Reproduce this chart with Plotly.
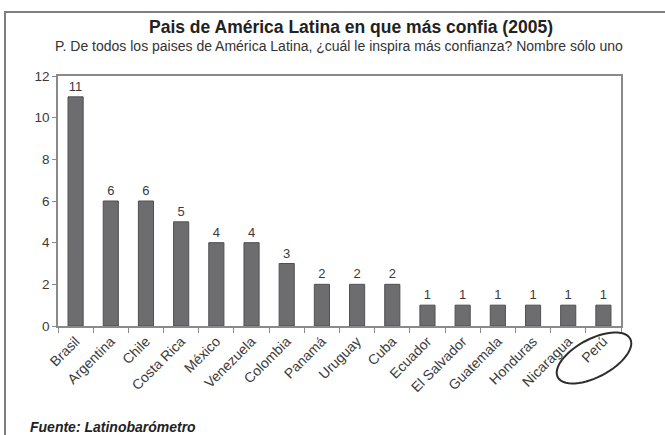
import numpy as np
import plotly.graph_objects as go

paises = ["Brasil", "Argentina", "Chile", "Costa Rica", "México", "Venezuela",
          "Colombia", "Panamá", "Uruguay", "Cuba", "Ecuador", "El Salvador",
          "Guatemala", "Honduras", "Nicaragua", "Perú"]
valores = [11, 6, 6, 5, 4, 4, 3, 2, 2, 2, 1, 1, 1, 1, 1, 1]
y_ticks = [0, 2, 4, 6, 8, 10, 12]

titulo = "Pais de América Latina en que más confia (2005)"
pregunta = "P. De todos los paises de América Latina, ¿cuál le inspira más confianza? Nombre sólo uno"
fuente = "Fuente: Latinobarómetro"

W, H = 665, 435
L, R, T, B = 58, 44, 76, 109
pw, ph = W - L - R, H - T - B


def px(x, y):
    # pixel position on the page -> paper coords
    return (x - L) / pw, (H - B - y) / ph


fig = go.Figure()
fig.add_trace(go.Bar(
    x=paises, y=valores,
    marker=dict(color="#6d6d70", line=dict(color="#505052", width=1)),
    width=0.43,
    text=valores, textposition="outside",
    textfont=dict(size=13, color="#3a3a3a"),
    cliponaxis=False,
))

# frame around the whole figure (right and bottom edges fall off the page)
x0, y0 = px(5, 12)
x1, y1 = px(680, 450)
fig.add_shape(type="rect", xref="paper", yref="paper", x0=x0, y0=y0, x1=x1, y1=y1,
              line=dict(color="#7e7e7e", width=2), layer="above")

# ellipse around Perú
t = np.linspace(0, 2 * np.pi, 60)
a, b, ang = 41, 19, np.radians(28)
ex = a * np.cos(t) * np.cos(ang) - b * np.sin(t) * np.sin(ang)
ey = a * np.cos(t) * np.sin(ang) + b * np.sin(t) * np.cos(ang)
cx, cy = 594, 358
pts = [px(cx + u, cy - v) for u, v in zip(ex, ey)]
path = "M " + " L ".join(f"{p[0]:.4f},{p[1]:.4f}" for p in pts) + " Z"
fig.add_shape(type="path", xref="paper", yref="paper", path=path,
              line=dict(color="#2e2e2e", width=2))

tx, ty = px(351, 27)
fig.add_annotation(text=f"<b>{titulo}</b>", xref="paper", yref="paper", x=tx, y=ty,
                   xanchor="center", yanchor="middle",
                   showarrow=False, font=dict(size=17.5, color="#222"))
tx, ty = px(339, 46)
fig.add_annotation(text=pregunta, xref="paper", yref="paper", x=tx, y=ty,
                   xanchor="center", yanchor="middle",
                   showarrow=False, font=dict(size=14, color="#333"))
tx, ty = px(28, 427)
fig.add_annotation(text=f"<b><i>{fuente}</i></b>", xref="paper", yref="paper", x=tx, y=ty,
                   xanchor="left", yanchor="middle",
                   showarrow=False, font=dict(size=14, color="#222"))

fig.update_layout(
    width=W, height=H,
    margin=dict(l=L, r=R, t=T, b=B),
    paper_bgcolor="white", plot_bgcolor="white",
    font=dict(family="Liberation Sans, Arial, sans-serif", size=13, color="#3a3a3a"),
    showlegend=False,
)
fig.update_xaxes(
    tickangle=-45, tickson="boundaries", ticks="outside", ticklen=5,
    tickcolor="#8a8a8a", showline=True, linecolor="#8a8a8a", linewidth=1.5,
    mirror=True, showgrid=False, tickfont=dict(size=14, color="#3a3a3a"),
)
fig.update_yaxes(
    range=[0, 12], tickvals=y_ticks, ticks="outside", ticklen=4,
    tickcolor="#8a8a8a", showline=True, linecolor="#8a8a8a", linewidth=1.5,
    mirror=True, showgrid=False, zeroline=False, tickfont=dict(size=13.5, color="#3a3a3a"),
)

# page body has an 8px default margin; drop it so the figure sits at 0,0
fig.write_html("out.html", config={"displayModeBar": False},
               post_script="document.body.style.margin='0';")
